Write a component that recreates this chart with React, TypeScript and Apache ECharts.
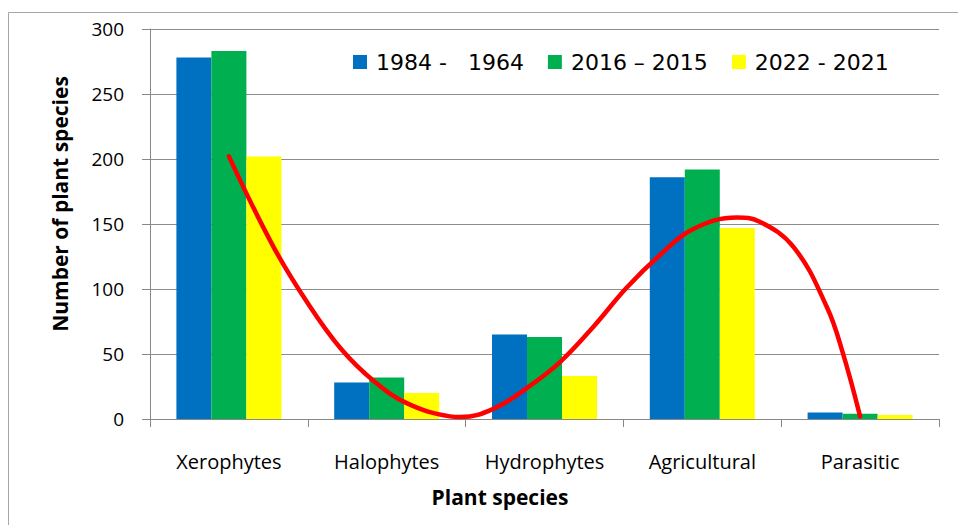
import React, { useEffect, useRef } from "react";
import * as echarts from "echarts";

const categories = ["Xerophytes", "Halophytes", "Hydrophytes", "Agricultural", "Parasitic"];
const seriesNames = ["1984 -   1964", "2016 – 2015", "2022 - 2021"];
const values1984 = [278, 28, 65, 186, 5];
const values2016 = [283, 32, 63, 192, 4];
const values2022 = [202, 20, 33, 147, 3];
const colors = ["#0070C0", "#00B050", "#FFFF00"];

// trend curve: position along the category axis (0..5) and value
const trendPos = [0.5, 0.78, 1.0, 1.21, 1.42, 1.63, 1.9, 1.97, 2.18, 2.39, 2.6, 2.81, 3.02, 3.23, 3.44, 3.72, 3.86, 4.08, 4.29, 4.39, 4.5];
const trendVal = [202, 133, 89, 54, 29, 12, 2, 1.5, 8, 24, 44, 71, 101, 126, 146, 155, 152, 132, 86, 51, 2];

const yTicks = { min: 0, max: 300, interval: 50 };

const calibriLike = "'Open Sans', 'Noto Sans', sans-serif";

export default function App() {
  const ref = useRef<HTMLDivElement>(null);
  useEffect(() => {
    if (!ref.current) return;
    const chart = echarts.init(ref.current, null, { renderer: "svg" });
    const barData = [values1984, values2016, values2022];
    chart.setOption({
      animation: false,
      backgroundColor: "#ffffff",
      grid: { left: 150, right: 19, top: 29, bottom: 106, containLabel: false },
      legend: {
        data: seriesNames,
        left: 348,
        top: 46,
        itemWidth: 14,
        itemHeight: 14,
        itemGap: 24,
        icon: "rect",
        textStyle: {
          fontFamily: "'DejaVu Sans', sans-serif",
          fontSize: 22,
          color: "#000",
          padding: [0, 0, 0, 4],
        },
      },
      xAxis: [
        {
          type: "category",
          data: categories,
          axisLine: { lineStyle: { color: "#888888", width: 1 } },
          axisTick: { show: true, length: 8, lineStyle: { color: "#888888" } },
          axisLabel: {
            color: "#000",
            fontFamily: calibriLike,
            fontSize: 20,
            margin: 32,
          },
        },
        {
          type: "value",
          min: 0,
          max: 5,
          show: false,
          position: "bottom",
        },
      ],
      yAxis: {
        type: "value",
        min: yTicks.min,
        max: yTicks.max,
        interval: yTicks.interval,
        axisLine: { show: true, lineStyle: { color: "#888888", width: 1 } },
        axisTick: { show: true, length: 8, lineStyle: { color: "#888888" } },
        axisLabel: {
          color: "#000",
          fontFamily: calibriLike,
          fontSize: 19,
          margin: 26,
        },
        splitLine: { show: true, lineStyle: { color: "#8c8c8c", width: 1 } },
      },
      series: [
        ...barData.map((d, i) => ({
          name: seriesNames[i],
          type: "bar",
          data: d,
          barWidth: 35,
          barGap: "0%",
          itemStyle: { color: colors[i] },
          xAxisIndex: 0,
          z: 2,
        })),
        {
          name: "trend",
          type: "line",
          xAxisIndex: 1,
          yAxisIndex: 0,
          data: trendPos.map((x, i) => [x, trendVal[i]]),
          smooth: 0.4,
          symbol: "none",
          lineStyle: { color: "#FF0000", width: 4.5, cap: "round", join: "round" },
          z: 5,
        },
      ],
      graphic: [
        {
          type: "rect",
          shape: { x: 8.5, y: 12.5, width: 960, height: 530 },
          style: { fill: "none", stroke: "#a6a6a6", lineWidth: 1 },
          silent: true,
        },
        {
          type: "text",
          x: 60,
          y: 204,
          rotation: Math.PI / 2,
          style: {
            text: "Number of plant species",
            fontFamily: calibriLike,
            fontWeight: "bold",
            fontSize: 21,
            fill: "#000",
            align: "center",
            verticalAlign: "middle",
          },
        },
        {
          type: "text",
          x: 500,
          y: 497,
          style: {
            text: "Plant species",
            fontFamily: calibriLike,
            fontWeight: "bold",
            fontSize: 21,
            fill: "#000",
            align: "center",
            verticalAlign: "middle",
          },
        },
      ],
    });
    return () => chart.dispose();
  }, []);
  return (
    <div
      ref={ref}
      style={{ position: "absolute", left: 0, top: 0, width: 958, height: 525 }}
    />
  );
}
